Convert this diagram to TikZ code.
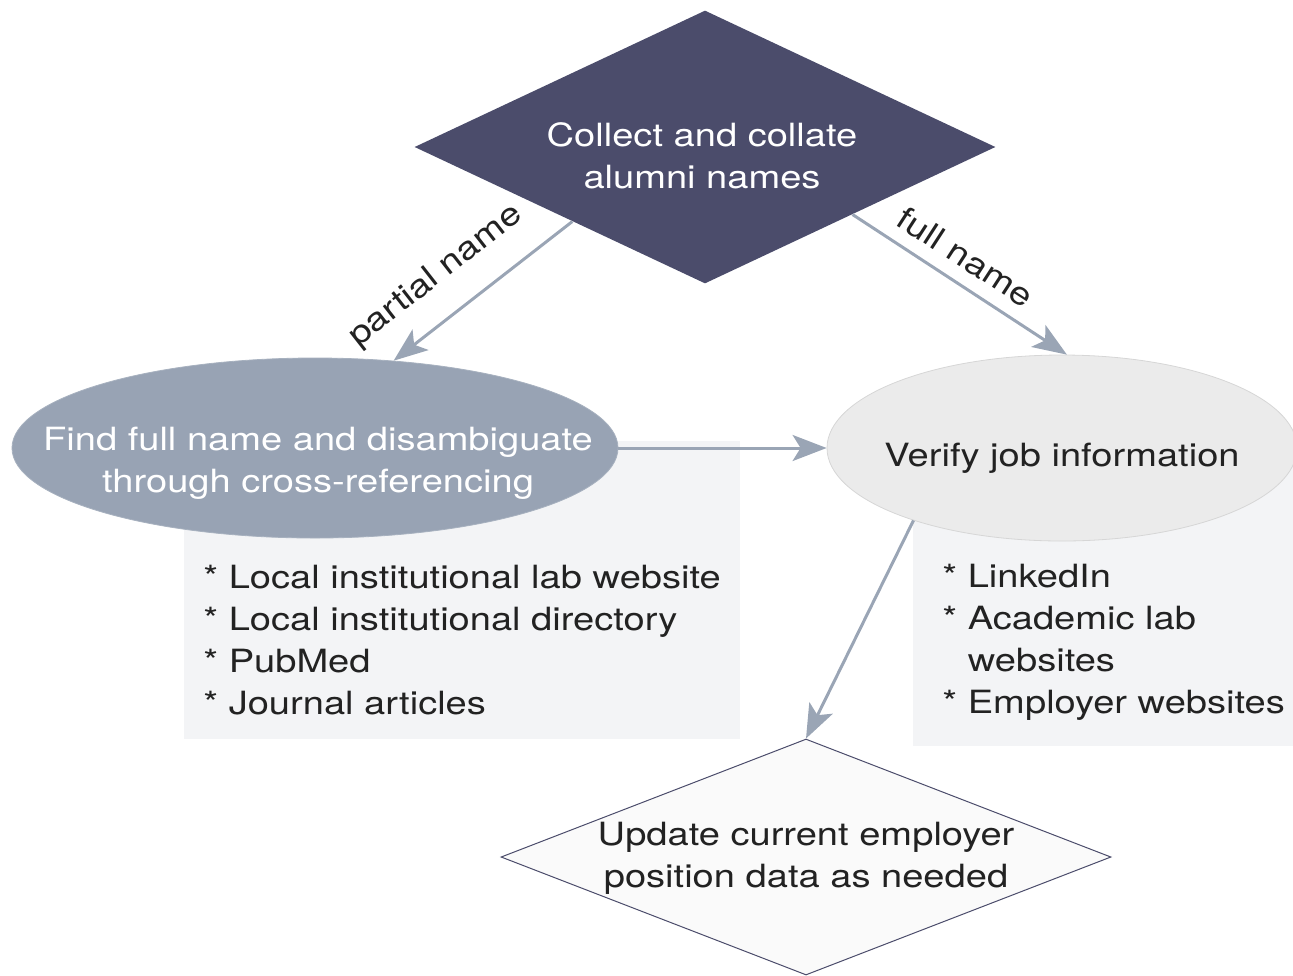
\documentclass[tikz,border=0pt]{standalone}
\usepackage{fontspec}
\setmainfont[FakeStretch=1.19]{TeX Gyre Heros}
\usetikzlibrary{shapes.geometric,arrows.meta,calc}
\definecolor{navy}{HTML}{4B4C6B}
\definecolor{slate}{HTML}{98A3B4}
\definecolor{arrowc}{HTML}{9AA5B5}
\definecolor{lightell}{HTML}{EBEBEB}
\definecolor{lightedge}{HTML}{D6D6D6}
\definecolor{boxc}{HTML}{F3F4F6}
\definecolor{txt}{HTML}{222222}
\begin{document}
\begin{tikzpicture}[x=0.5pt,y=-0.5pt,
  every node/.style={font=\fontsize{16}{21}\selectfont, text=txt},
  conn/.style={draw=arrowc, line width=1.5pt, -{Stealth[length=17pt,width=13pt,inset=4pt]}},
  lbl/.style={font=\fontsize{16}{21}\selectfont, text=txt, inner sep=0pt}]
\useasboundingbox (0,0) rectangle (1293,975);
% background boxes
\fill[boxc] (184,441) rectangle (740,739);
\fill[boxc] (913,441) rectangle (1293,746);
% nodes
\node[diamond, fill=navy, draw=none, minimum width=290.5pt, minimum height=136.5pt, inner sep=0pt] (top) at (705,147) {};
\node[align=center, text=white] (toptxt) at (702,156) {Collect and collate\\alumni names};
\node[ellipse, fill=slate, draw=slate!85!white, minimum width=303pt, minimum height=90pt, inner sep=0pt] (left) at (315,448) {};
\node[align=center, text=white] (lefttxt) at (318,463) {Find full name and disambiguate\\through cross-referencing};
\node[ellipse, fill=lightell, draw=lightedge, line width=0.4pt, minimum width=235pt, minimum height=93pt, inner sep=0pt] (right) at (1062,448) {};
\node (righttxt) at (1062,458) {Verify job information};
\node[diamond, fill=white!98!black, draw=navy, line width=0.5pt, minimum width=305pt, minimum height=118pt, inner sep=0pt] (bot) at (806,857) {};
\node[align=center] (bottxt) at (806,858) {Update current employer\\position data as needed};
% lists
\node[anchor=north west, align=left, inner sep=0pt] (leftlist) at (203,565) {* Local institutional lab website\\* Local institutional directory\\* PubMed\\* Journal articles};
\node[anchor=north west, align=left, inner sep=0pt] (rightlist) at (942,564) {* LinkedIn\\* Academic lab\\\hphantom{* }websites\\* Employer websites};
% connectors
\draw[conn] ($(top.west)!0.544!(top.south)$) -- (left.48);
\draw[conn] ($(top.south)!0.507!(top.east)$) -- (right.87);
\draw[conn] (left.east) -- (right.west);
\draw[conn] (right.206) -- (bot.north);
% labels
\node[lbl, rotate=38] (pn) at (436,276) {partial name};
\node[lbl, rotate=-33] (fn) at (966,257) {full name};
\end{tikzpicture}
\end{document}
